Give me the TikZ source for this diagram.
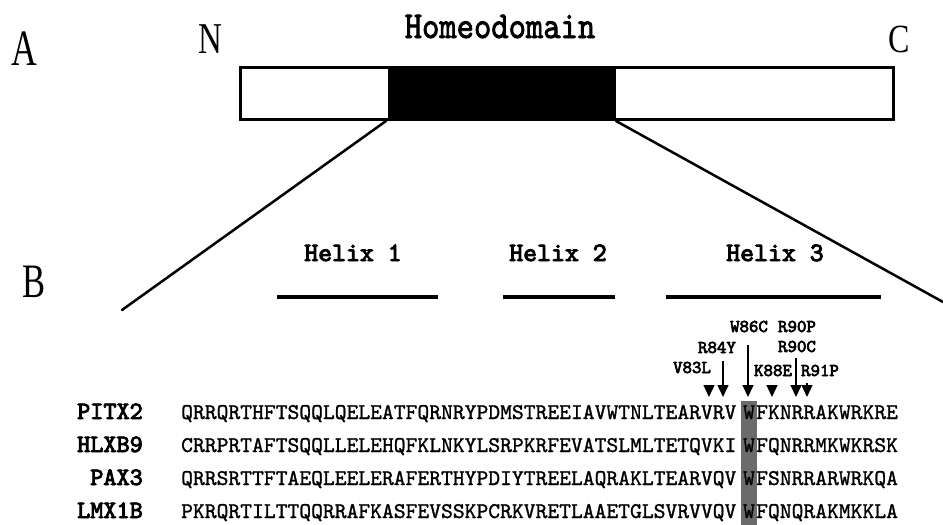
\documentclass[tikz,border=0pt]{standalone}
\usepackage{fontspec}
\usetikzlibrary{arrows.meta}
% typewriter faces for the sequence alignment, with emboldened variants
\newfontfamily\seqfont{lmmono10-regular.otf}[FakeBold=1.2]
\newfontfamily\headfont{lmmono10-regular.otf}[FakeBold=2.2]
\newfontfamily\boldmono{lmmono10-regular.otf}[FakeBold=3.5]
\newfontfamily\panelfont{Liberation Serif}
\begin{document}
\begin{tikzpicture}[x=1pt,y=-1pt,
  panel/.style={inner sep=0pt, anchor=base, font=\panelfont},
  seq/.style={inner sep=0pt, anchor=base west, font=\seqfont\fontsize{22.5}{22.5}\selectfont},
  seqw/.style={inner sep=0pt, anchor=base, font=\seqfont\fontsize{22.5}{22.5}\selectfont},
  genelbl/.style={inner sep=0pt, anchor=base east, font=\boldmono\fontsize{25}{25}\selectfont},
  helixlbl/.style={inner sep=0pt, anchor=base, font=\boldmono\fontsize{26.5}{26.5}\selectfont},
  mutlbl/.style={inner sep=0pt, anchor=base, font=\boldmono\fontsize{18}{18}\selectfont},
  helixbar/.style={line width=4pt},
  zoomline/.style={line width=2.5pt, line cap=round},
  mutarrow/.style={line width=1.4pt, -{Triangle[width=11pt,length=12pt]}},
]
\useasboundingbox (0,0) rectangle (943,525);

% ---------- panel A: protein with homeodomain ----------
\node[panel] (lblA) at (24,65) {\scalebox{0.7}[1]{\fontsize{51}{51}\selectfont A}};
\node[panel] (lblN) at (210,53) {\scalebox{0.75}[1]{\fontsize{44}{44}\selectfont N}};
\node[panel] (lblC) at (899,52) {\scalebox{0.8}[1]{\fontsize{40}{40}\selectfont C}};
\node[inner sep=0pt, anchor=base, font=\headfont\fontsize{33}{33}\selectfont] (hdlbl) at (500,38)
  {\scalebox{1}[1.15]{Homeodomain}};

\fill (388,67) rectangle (616,119);
\draw[line width=3pt] (240,67) rectangle (893,119);
\coordinate (hdL) at (386,121);
\coordinate (hdR) at (616,121);

% ---------- panel B: helices ----------
\node[panel] (lblB) at (34,297) {\scalebox{0.72}[1]{\fontsize{48}{48}\selectfont B}};
\coordinate (zoomL) at (122,310);
\coordinate (zoomR) at (943,302);
\draw[zoomline] (hdL) -- (zoomL);
\draw[zoomline] (hdR) -- (zoomR);

\node[helixlbl] (h1) at (353,261) {Helix 1};
\node[helixlbl] (h2) at (558,261) {Helix 2};
\node[helixlbl] (h3) at (775,261) {Helix 3};
\draw[helixbar] (277,297) -- (438,297);
\draw[helixbar] (503,297) -- (615,297);
\draw[helixbar] (666,297) -- (881,297);

% ---------- conserved tryptophan column ----------
\fill[black!58] (741,401) rectangle (757,525);

% ---------- aligned sequences ----------
\node[genelbl] (gPITX) at (143,419) {PITX2};
\node[seq] (sPITXa) at (181,419) {QRRQRTHFTSQQLQELEATFQRNRYPDMSTREEIAVWTNLTEARVRV};
\node[seqw] (sPITXw) at (749,419) {W};
\node[seq] (sPITXb) at (756,419) {FKNRRAKWRKRE};

\node[genelbl] (gHLXB) at (143,452) {HLXB9};
\node[seq] (sHLXBa) at (181,452) {CRRPRTAFTSQQLLELEHQFKLNKYLSRPKRFEVATSLMLTETQVKI};
\node[seqw] (sHLXBw) at (749,452) {W};
\node[seq] (sHLXBb) at (756,452) {FQNRRMKWKRSK};

\node[genelbl] (gPAX) at (143,485) {PAX3};
\node[seq] (sPAXa) at (181,485) {QRRSRTTFTAEQLEELERAFERTHYPDIYTREELAQRAKLTEARVQV};
\node[seqw] (sPAXw) at (749,485) {W};
\node[seq] (sPAXb) at (756,485) {FSNRRARWRKQA};

\node[genelbl] (gLMX) at (143,518) {LMX1B};
\node[seq] (sLMXa) at (181,518) {PKRQRTILTTQQRRAFKASFEVSSKPCRKVRETLAAETGLSVRVVQV};
\node[seqw] (sLMXw) at (749,518) {W};
\node[seq] (sLMXb) at (756,518) {FQNQRAKMKKLA};

% ---------- mutations ----------
\node[mutlbl] (mW86C) at (749,332) {W86C};
\node[mutlbl] (mR90P) at (797,332) {R90P};
\node[mutlbl] (mR90C) at (797,352) {R90C};
\node[mutlbl] (mR84Y) at (717,353) {R84Y};
\node[mutlbl] (mV83L) at (692,373) {V83L};
\node[mutlbl] (mK88E) at (773,376) {K88E};
\node[mutlbl] (mR91P) at (820,376) {R91P};

\coordinate (sV83L) at (709,385);  \coordinate (tV83L) at (709,397);
\coordinate (sR84Y) at (723,361);  \coordinate (tR84Y) at (723,397);
\coordinate (sW86C) at (748,345);  \coordinate (tW86C) at (748,397);
\coordinate (sK88E) at (772,385);  \coordinate (tK88E) at (772,397);
\coordinate (sR90)  at (796,358);  \coordinate (tR90)  at (796,397);
\coordinate (sR91P) at (807,383);  \coordinate (tR91P) at (807,397);

\foreach \m in {V83L,R84Y,W86C,K88E,R90,R91P}
  \draw[mutarrow] (s\m) -- (t\m);
\end{tikzpicture}
\end{document}
